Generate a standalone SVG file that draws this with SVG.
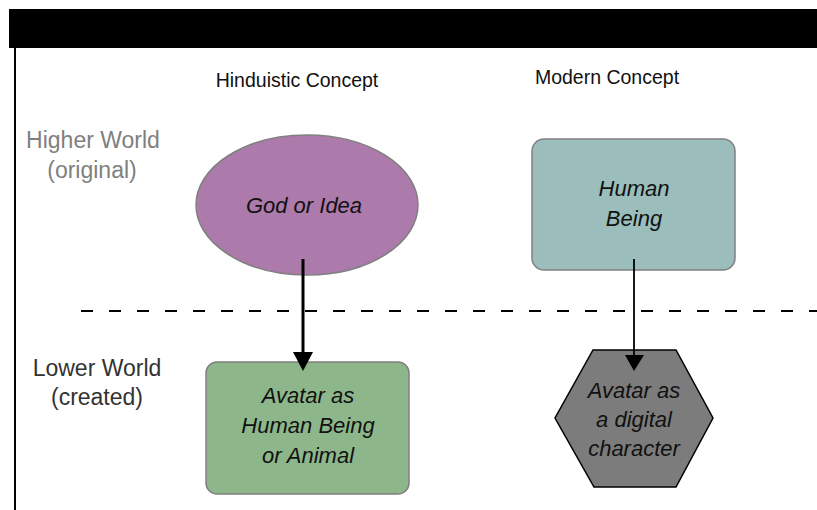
<svg xmlns="http://www.w3.org/2000/svg" width="817" height="510" viewBox="0 0 817 510">
  <style>
    .head { font-family: "Liberation Sans", Arial, sans-serif; font-size: 19.5px; fill: #111; text-anchor: middle; }
    .side { font-family: "Liberation Sans", Arial, sans-serif; font-size: 23px; text-anchor: middle; }
    .lbl { font-family: "Liberation Sans", Arial, sans-serif; font-size: 22px; font-style: italic; fill: #111; text-anchor: middle; }
    .shape { stroke: #808080; stroke-width: 1.5; }
  </style>
  <rect width="817" height="510" fill="#fff"/>

  <!-- title bar and frame -->
  <rect x="9" y="9" width="808" height="39" fill="#000"/>
  <line x1="15" y1="48" x2="15" y2="510" stroke="#000" stroke-width="2"/>

  <!-- column headings -->
  <text class="head" x="297" y="87">Hinduistic Concept</text>
  <text class="head" x="607" y="84">Modern Concept</text>

  <!-- row labels -->
  <text class="side" x="93" y="148" style="fill:#7f7f7f">Higher World</text>
  <text class="side" x="92" y="178" style="fill:#7f7f7f">(original)</text>
  <text class="side" x="97" y="376" style="fill:#333">Lower World</text>
  <text class="side" x="97" y="405" style="fill:#333">(created)</text>

  <!-- boundary between worlds -->
  <line x1="81" y1="311" x2="817" y2="311" stroke="#000" stroke-width="2" stroke-dasharray="12 16"/>

  <g id="god">
    <ellipse class="shape" cx="307" cy="205" rx="111" ry="70" fill="#ad7aac"/>
    <text class="lbl" x="304" y="213">God or Idea</text>
  </g>

  <g id="human">
    <rect class="shape" x="532" y="139" width="203" height="131" rx="12" fill="#9bbdbb"/>
    <text class="lbl" x="634" y="196">Human</text>
    <text class="lbl" x="634" y="226">Being</text>
  </g>

  <g id="avatar-human">
    <rect class="shape" x="206" y="362" width="203" height="132" rx="11" fill="#8db78b"/>
    <text class="lbl" x="308" y="403">Avatar as</text>
    <text class="lbl" x="308" y="433">Human Being</text>
    <text class="lbl" x="308" y="463">or Animal</text>
  </g>

  <g id="avatar-digital">
    <polygon points="593,350 676,350 713,418 676,487 594,487 555,418" fill="#7c7c7c" stroke="#000" stroke-width="1.5"/>
    <text class="lbl" x="634" y="398">Avatar as</text>
    <text class="lbl" x="634" y="427">a digital</text>
    <text class="lbl" x="634" y="456">character</text>
  </g>

  <g id="connectors">
    <line x1="303" y1="259" x2="303" y2="353" stroke="#000" stroke-width="3"/>
    <path d="M293,352 L313,352 L303,371 Z" fill="#000"/>
    <line x1="634" y1="259" x2="634" y2="356" stroke="#000" stroke-width="1.8"/>
    <path d="M625,355 L644,355 L634,371 Z" fill="#000"/>
  </g>
</svg>
